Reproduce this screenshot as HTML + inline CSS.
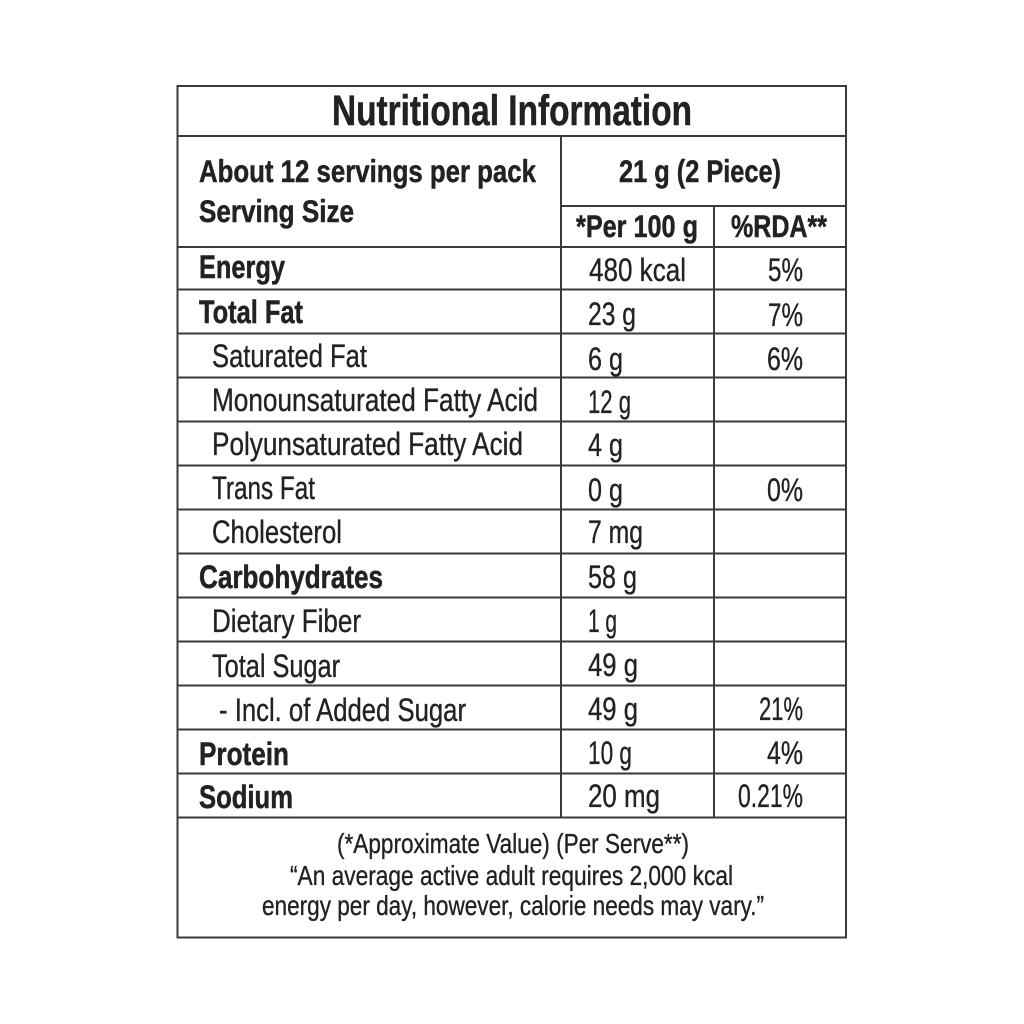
<!DOCTYPE html>
<html>
<head>
<meta charset="utf-8">
<style>
  html, body { margin: 0; padding: 0; background: #ffffff; }
  svg { display: block; }
  text { font-family: "Liberation Sans", "DejaVu Sans", sans-serif; fill: #222222; stroke: #222222; stroke-width: 0.35; }
  .b { font-weight: bold; stroke-width: 0.5; }
</style>
</head>
<body>
<svg width="1024" height="1024" viewBox="0 0 1024 1024" xmlns="http://www.w3.org/2000/svg">
  <rect x="0" y="0" width="1024" height="1024" fill="#ffffff"/>
  <g stroke="#3a3a3a" stroke-width="2" fill="none">
    <rect x="177.5" y="86" width="668.5" height="851.5"/>
    <line x1="177.5" y1="136" x2="846" y2="136"/>
    <line x1="561" y1="206" x2="846" y2="206"/>
    <line x1="177.5" y1="247" x2="846" y2="247"/>
    <line x1="177.5" y1="289.5" x2="846" y2="289.5"/>
    <line x1="177.5" y1="333.5" x2="846" y2="333.5"/>
    <line x1="177.5" y1="377.5" x2="846" y2="377.5"/>
    <line x1="177.5" y1="421.5" x2="846" y2="421.5"/>
    <line x1="177.5" y1="465.5" x2="846" y2="465.5"/>
    <line x1="177.5" y1="509.5" x2="846" y2="509.5"/>
    <line x1="177.5" y1="553.5" x2="846" y2="553.5"/>
    <line x1="177.5" y1="597.5" x2="846" y2="597.5"/>
    <line x1="177.5" y1="641.5" x2="846" y2="641.5"/>
    <line x1="177.5" y1="685.5" x2="846" y2="685.5"/>
    <line x1="177.5" y1="729.5" x2="846" y2="729.5"/>
    <line x1="177.5" y1="773.5" x2="846" y2="773.5"/>
    <line x1="177.5" y1="817.5" x2="846" y2="817.5"/>
    <line x1="561" y1="136" x2="561" y2="817.5"/>
    <line x1="714" y1="206" x2="714" y2="817.5"/>
  </g>

  <!-- Title -->
  <text class="b" x="332" y="125" font-size="43" textLength="360" lengthAdjust="spacingAndGlyphs">Nutritional Information</text>

  <!-- Header -->
  <text class="b" x="199" y="182" font-size="31.5" textLength="337" lengthAdjust="spacingAndGlyphs">About 12 servings per pack</text>
  <text class="b" x="199" y="222" font-size="31.5" textLength="155" lengthAdjust="spacingAndGlyphs">Serving Size</text>
  <text class="b" x="619" y="182" font-size="31.5" textLength="162" lengthAdjust="spacingAndGlyphs">21 g (2 Piece)</text>
  <text class="b" x="576" y="237" font-size="31.5" textLength="122" lengthAdjust="spacingAndGlyphs">*Per 100 g</text>
  <text class="b" x="731" y="237" font-size="31.5" textLength="96" lengthAdjust="spacingAndGlyphs">%RDA**</text>

  <!-- Labels -->
  <text class="b" x="199" y="278" font-size="32" textLength="86" lengthAdjust="spacingAndGlyphs">Energy</text>
  <text class="b" x="199" y="323" font-size="32" textLength="104" lengthAdjust="spacingAndGlyphs">Total Fat</text>
  <text x="212" y="367" font-size="32" textLength="155" lengthAdjust="spacingAndGlyphs">Saturated Fat</text>
  <text x="212" y="411" font-size="32" textLength="326" lengthAdjust="spacingAndGlyphs">Monounsaturated Fatty Acid</text>
  <text x="212" y="455" font-size="32" textLength="311" lengthAdjust="spacingAndGlyphs">Polyunsaturated Fatty Acid</text>
  <text x="212" y="499" font-size="32" textLength="103" lengthAdjust="spacingAndGlyphs">Trans Fat</text>
  <text x="212" y="543" font-size="32" textLength="130" lengthAdjust="spacingAndGlyphs">Cholesterol</text>
  <text class="b" x="199" y="588" font-size="32" textLength="184" lengthAdjust="spacingAndGlyphs">Carbohydrates</text>
  <text x="212" y="632" font-size="32" textLength="149" lengthAdjust="spacingAndGlyphs">Dietary Fiber</text>
  <text x="212" y="677" font-size="32" textLength="128" lengthAdjust="spacingAndGlyphs">Total Sugar</text>
  <text x="219" y="721" font-size="32" textLength="247" lengthAdjust="spacingAndGlyphs">- Incl. of Added Sugar</text>
  <text class="b" x="199" y="765" font-size="32" textLength="90" lengthAdjust="spacingAndGlyphs">Protein</text>
  <text class="b" x="199" y="808" font-size="32" textLength="94" lengthAdjust="spacingAndGlyphs">Sodium</text>

  <!-- Per 100 g values -->
  <text x="589" y="281" font-size="32" textLength="97" lengthAdjust="spacingAndGlyphs">480 kcal</text>
  <text x="588" y="325" font-size="32" textLength="48" lengthAdjust="spacingAndGlyphs">23 g</text>
  <text x="588" y="370" font-size="32" textLength="35" lengthAdjust="spacingAndGlyphs">6 g</text>
  <text x="588" y="413" font-size="32" textLength="43" lengthAdjust="spacingAndGlyphs">12 g</text>
  <text x="588" y="456" font-size="32" textLength="35" lengthAdjust="spacingAndGlyphs">4 g</text>
  <text x="588" y="501" font-size="32" textLength="35" lengthAdjust="spacingAndGlyphs">0 g</text>
  <text x="588" y="543" font-size="32" textLength="55" lengthAdjust="spacingAndGlyphs">7 mg</text>
  <text x="588" y="588" font-size="32" textLength="49" lengthAdjust="spacingAndGlyphs">58 g</text>
  <text x="588" y="632" font-size="32" textLength="29" lengthAdjust="spacingAndGlyphs">1 g</text>
  <text x="588" y="676" font-size="32" textLength="50" lengthAdjust="spacingAndGlyphs">49 g</text>
  <text x="588" y="720" font-size="32" textLength="50" lengthAdjust="spacingAndGlyphs">49 g</text>
  <text x="588" y="764" font-size="32" textLength="44" lengthAdjust="spacingAndGlyphs">10 g</text>
  <text x="588" y="807" font-size="32" textLength="72" lengthAdjust="spacingAndGlyphs">20 mg</text>

  <!-- %RDA values -->
  <text x="768" y="281" font-size="32" textLength="35" lengthAdjust="spacingAndGlyphs">5%</text>
  <text x="768" y="326" font-size="32" textLength="35" lengthAdjust="spacingAndGlyphs">7%</text>
  <text x="767" y="370" font-size="32" textLength="36" lengthAdjust="spacingAndGlyphs">6%</text>
  <text x="767" y="501" font-size="32" textLength="36" lengthAdjust="spacingAndGlyphs">0%</text>
  <text x="759" y="720" font-size="32" textLength="44" lengthAdjust="spacingAndGlyphs">21%</text>
  <text x="767" y="764" font-size="32" textLength="36" lengthAdjust="spacingAndGlyphs">4%</text>
  <text x="738" y="807" font-size="32" textLength="65" lengthAdjust="spacingAndGlyphs">0.21%</text>

  <!-- Footer -->
  <text x="337" y="853" font-size="28" textLength="352" lengthAdjust="spacingAndGlyphs">(*Approximate Value) (Per Serve**)</text>
  <text x="290" y="885" font-size="28" textLength="443" lengthAdjust="spacingAndGlyphs">“An average active adult requires 2,000 kcal</text>
  <text x="262" y="915" font-size="28" textLength="502" lengthAdjust="spacingAndGlyphs">energy per day, however, calorie needs may vary.”</text>
</svg>
</body>
</html>
